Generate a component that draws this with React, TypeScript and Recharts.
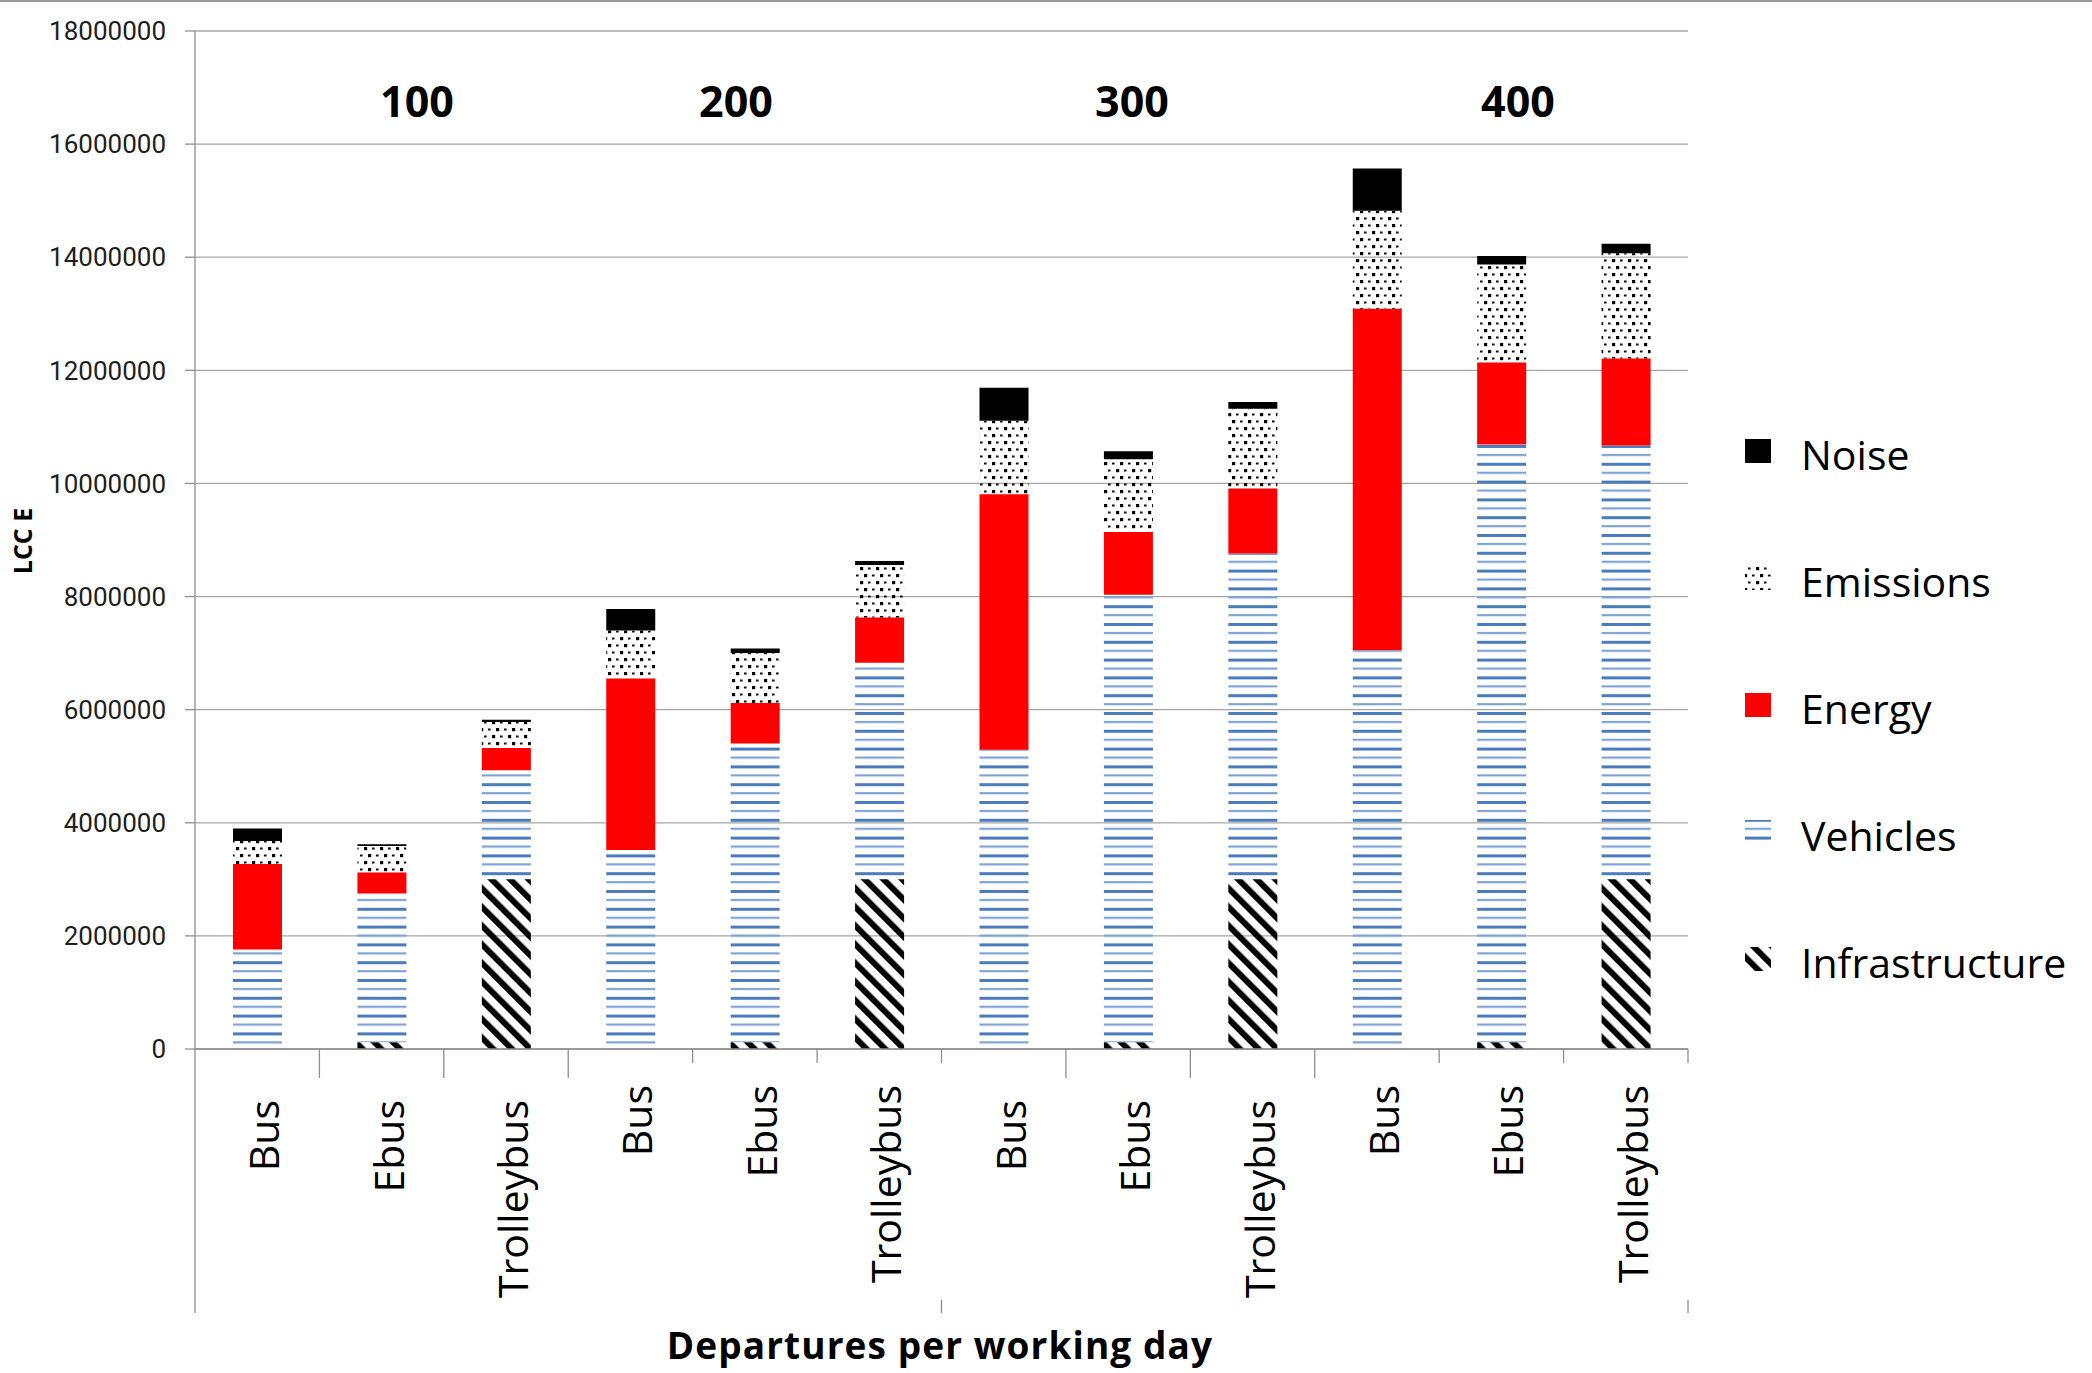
import React from 'react';
import { BarChart, Bar, XAxis, YAxis, CartesianGrid } from 'recharts';

const departures = ['100', '200', '300', '400'];
const vehicleTypes = ['Bus', 'Ebus', 'Trolleybus'];

// Life-cycle cost parts, one value per variant: 100 Bus, 100 Ebus, 100 Trolleybus, 200 Bus, ...
const infrastructure = [0, 120000, 3000000, 0, 120000, 3000000, 0, 120000, 3000000, 0, 120000, 3000000];
const vehicles = [1760000, 2630000, 1930000, 3520000, 5280000, 3830000, 5290000, 7910000, 5760000, 7050000, 10570000, 7670000];
const energy = [1510000, 370000, 390000, 3030000, 720000, 800000, 4520000, 1110000, 1150000, 6040000, 1450000, 1540000];
const emissions = [410000, 470000, 460000, 850000, 880000, 930000, 1300000, 1290000, 1410000, 1730000, 1730000, 1860000];
const noise = [220000, 30000, 40000, 380000, 80000, 70000, 580000, 140000, 120000, 750000, 150000, 170000];

const yTicks = [0, 2000000, 4000000, 6000000, 8000000, 10000000, 12000000, 14000000, 16000000, 18000000];

const series = [
  { key: 'infrastructure', name: 'Infrastructure', fill: 'url(#lcc-infra)' },
  { key: 'vehicles', name: 'Vehicles', fill: 'url(#lcc-vehicles)' },
  { key: 'energy', name: 'Energy', fill: '#ff0000' },
  { key: 'emissions', name: 'Emissions', fill: 'url(#lcc-emissions)' },
  { key: 'noise', name: 'Noise', fill: '#000000' },
];

const rows = departures.flatMap((dep, g) =>
  vehicleTypes.map((type, t) => {
    const i = g * 3 + t;
    return {
      key: `${dep}-${type}`,
      type,
      group: g,
      infrastructure: infrastructure[i],
      vehicles: vehicles[i],
      energy: energy[i],
      emissions: emissions[i],
      noise: noise[i],
    };
  })
);

const W = 2092;
const H = 1373;
const MARGIN = { top: 31, right: 404, left: 0, bottom: 24 };
const Y_AXIS_W = 195;
const X_AXIS_H = 300;
const PLOT_W = W - Y_AXIS_W - MARGIN.right;
const STEP = PLOT_W / rows.length;

const AXIS = '#8e8e8e';
const GRID = '#a5a5a5';
const SANS = "'Open Sans', sans-serif";

const CategoryTick = (props: any) => {
  const { x, y, index } = props;
  const row = rows[index];
  const oddBlock = row.group % 2 === 0;
  const right = x + STEP / 2;
  const top = y + (oddBlock ? 51 : 36);
  const lx = x + 22;
  return (
    <g>
      {index === 0 && (
        <line x1={x - STEP / 2} x2={x - STEP / 2} y1={y} y2={y + 264} stroke={AXIS} strokeWidth={1.3} />
      )}
      <line x1={right} x2={right} y1={y} y2={y + (oddBlock ? 29 : 14)} stroke={AXIS} strokeWidth={1.3} />
      {(index === 5 || index === 11) && (
        <line x1={right} x2={right} y1={y + 251} y2={y + 264} stroke={AXIS} strokeWidth={1.3} />
      )}
      <text
        x={lx}
        y={top}
        transform={`rotate(-90 ${lx} ${top})`}
        textAnchor="end"
        fontFamily={SANS}
        fontSize={41}
        fill="#000"
      >
        {row.type}
      </text>
    </g>
  );
};

const groupLabelX = [417, 736, 1132, 1518];

const Patterns = () => (
  <svg width={0} height={0} style={{ position: 'absolute' }}>
    <defs>
      <pattern id="lcc-vehicles" patternUnits="userSpaceOnUse" width={10} height={17.8}>
        <rect x={0} y={0} width={10} height={3} fill="#4a7bbd" />
        <rect x={0} y={8.9} width={10} height={2.2} fill="#7fa3d6" />
      </pattern>
      <pattern
        id="lcc-infra"
        patternUnits="userSpaceOnUse"
        width={13.2}
        height={13.2}
        patternTransform="rotate(-45)"
      >
        <rect x={0} y={0} width={6} height={13.2} fill="#000" />
      </pattern>
      <pattern id="lcc-emissions" patternUnits="userSpaceOnUse" width={16} height={14}>
        <rect x={0} y={0} width={3.2} height={3.2} fill="#000" />
        <rect x={8} y={0.5} width={2.6} height={2} fill="#111" />
        <rect x={4} y={7.5} width={2.6} height={2} fill="#111" />
        <rect x={12} y={7} width={3.2} height={3.2} fill="#000" />
      </pattern>
    </defs>
  </svg>
);

const Overlay = () => {
  const legend = [...series].reverse();
  return (
    <svg
      width={W}
      height={H}
      style={{ position: 'absolute', left: 0, top: 0, pointerEvents: 'none' }}
    >
      <line x1={0} x2={W} y1={1} y2={1} stroke="#9a9a9a" strokeWidth={2} />
      {departures.map((d, i) => (
        <text
          key={d}
          x={groupLabelX[i]}
          y={117}
          textAnchor="middle"
          fontFamily={SANS}
          fontWeight={700}
          fontSize={43}
          fill="#000"
        >
          {d}
        </text>
      ))}
      <text
        x={32}
        y={541}
        transform="rotate(-90 32 541)"
        textAnchor="middle"
        fontFamily={SANS}
        fontWeight={700}
        fontSize={25}
        fill="#000"
      >
        LCC E
      </text>
      <text
        x={940}
        y={1359}
        textAnchor="middle"
        fontFamily={SANS}
        fontWeight={700}
        fontSize={37}
        letterSpacing={1.1}
        fill="#000"
      >
        Departures per working day
      </text>
      {legend.map((s, i) => {
        const base = 470 + i * 127;
        return (
          <g key={s.key}>
            <rect x={1745} y={base - 31} width={26} height={24} fill={s.fill} />
            <text x={1801} y={base} fontFamily={SANS} fontSize={41} fill="#000">
              {s.name}
            </text>
          </g>
        );
      })}
    </svg>
  );
};

export default function App() {
  return (
    <div style={{ position: 'absolute', left: 0, top: 0, width: W, height: H, background: '#fff' }}>
      <Patterns />
      <BarChart width={W} height={H} data={rows} margin={MARGIN} barSize={49}>
        <CartesianGrid vertical={false} stroke={GRID} strokeWidth={1.3} />
        <XAxis
          dataKey="key"
          interval={0}
          height={X_AXIS_H}
          axisLine={{ stroke: AXIS, strokeWidth: 1.3 }}
          tickLine={false}
          tickSize={0}
          tickMargin={0}
          tick={<CategoryTick />}
        />
        <YAxis
          width={Y_AXIS_W}
          domain={[0, 18000000]}
          ticks={yTicks}
          interval={0}
          tickFormatter={(v: number) => String(v)}
          axisLine={{ stroke: AXIS, strokeWidth: 1.3 }}
          tickLine={{ stroke: AXIS, strokeWidth: 1.3 }}
          tickSize={10}
          tickMargin={19}
          tick={{ fontFamily: 'Roboto, sans-serif', fontSize: 26, fill: '#1e1e1e' }}
        />
        {series.map((s) => (
          <Bar key={s.key} dataKey={s.key} name={s.name} stackId="lcc" fill={s.fill} isAnimationActive={false} />
        ))}
      </BarChart>
      <Overlay />
    </div>
  );
}
